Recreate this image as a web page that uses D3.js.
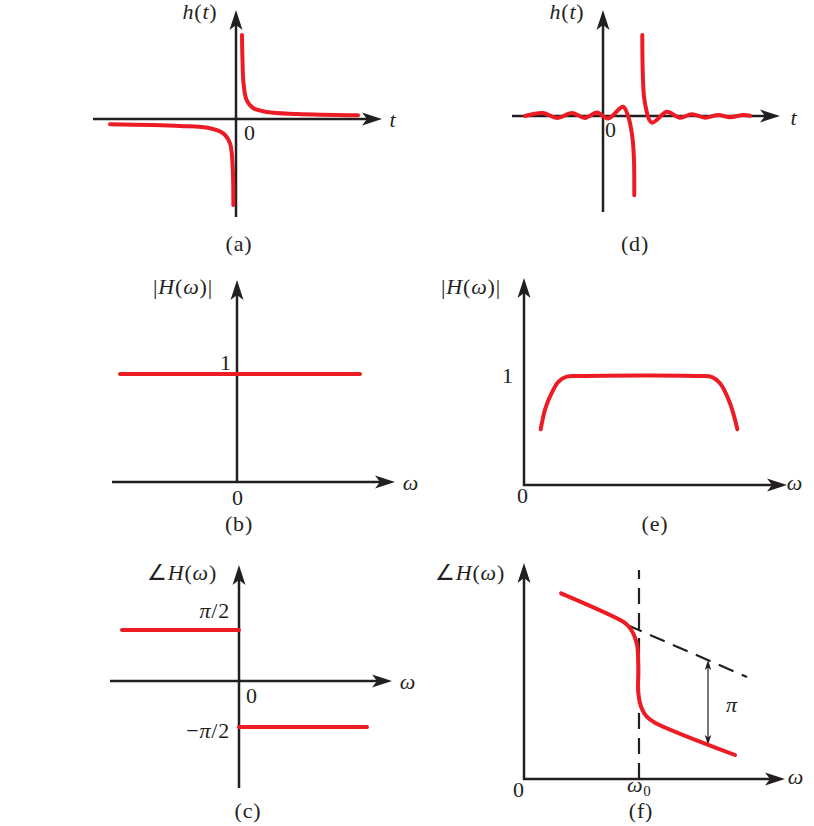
<!DOCTYPE html>
<html>
<head>
<meta charset="utf-8">
<script src="https://cdn.jsdelivr.net/npm/d3@7"></script>
<style>
  body { margin: 0; background: #fff; }
  text { font-family: "Liberation Serif", "Times New Roman", serif; font-size: 22px; fill: #231f20; letter-spacing: 0.8px; }
</style>
</head>
<body>
<svg id="chart" width="814" height="826"></svg>
<script>

// (a) ideal Hilbert transformer h(t) as [t, h]
var hilbertRight = [ [ 0.05, 1.05 ], [ 0.054, 0.74 ], [ 0.0625, 0.45 ], [ 0.0875, 0.24 ], [ 0.142, 0.1375 ],
  [ 0.258, 0.0875 ], [ 0.508, 0.0625 ], [ 1.017, 0.046 ] ];
var hilbertLeft = [ [ -1.05, -0.066 ], [ -0.467, -0.0875 ], [ -0.217, -0.116 ], [ -0.106, -0.179 ],
  [ -0.05, -0.304 ], [ -0.028, -0.596 ], [ -0.022, -1.075 ] ];

// (d) practical (band-limited, delayed) h(t)
var practicalLeft = [ [ -2.6, 0 ], [ -2.0, 0.0375 ], [ -1.533, -0.025 ], [ -1.033, 0.0375 ], [ -0.6, -0.025 ],
  [ -0.2, 0.044 ], [ 0.167, -0.031 ], [ 0.667, 0.116 ], [ 0.843, -0.009 ], [ 0.923, -0.134 ],
  [ 0.99, -0.3 ], [ 1.033, -0.55 ], [ 1.043, -0.99 ] ];
var practicalRight = [ [ 1.31, 1.0125 ], [ 1.323, 0.575 ], [ 1.367, 0.241 ], [ 1.457, 0.054 ], [ 1.543, -0.05 ],
  [ 1.643, -0.084 ], [ 1.79, -0.05 ], [ 2.123, 0.054 ], [ 2.567, -0.021 ], [ 2.957, 0.021 ],
  [ 3.4, -0.021 ], [ 3.843, 0.0125 ], [ 4.233, -0.016 ], [ 4.677, 0.0125 ], [ 4.9, 0.004 ] ];

// (b) ideal magnitude
var magIdeal = [ [ -0.975, 1 ], [ 1.025, 1 ] ];

// (e) practical magnitude
var magPractical = [ [ 0.076, 0.511 ], [ 0.095, 0.688 ], [ 0.118, 0.81 ], [ 0.156, 0.947 ], [ 0.194, 0.994 ],
  [ 0.255, 1 ], [ 0.8, 1 ], [ 0.855, 0.99 ], [ 0.891, 0.933 ], [ 0.936, 0.752 ], [ 0.97, 0.511 ] ];

// (c) ideal phase
var phaseIdealNeg = [ [ -0.975, Math.PI / 2 ], [ 0, Math.PI / 2 ] ];
var phaseIdealPos = [ [ 0, -Math.PI / 2 ], [ 1.067, -Math.PI / 2 ] ];

// (f) practical phase, omega in units of omega0
var phasePractical = [ [ 0.322, 1.857 ], [ 0.863, 1.573 ], [ 0.907, 1.53 ], [ 0.95, 1.457 ], [ 0.98, 1.357 ],
  [ 0.989, 1.29 ], [ 0.994, 1.09 ], [ 0.994, 0.857 ], [ 1.023, 0.707 ], [ 1.067, 0.623 ],
  [ 1.139, 0.563 ], [ 1.835, 0.24 ] ];
var phaseLinear = [ [ 0.896, 1.54 ], [ 1.939, 1.02 ] ];
var phaseMarker = [ [ 1, 0 ], [ 1, 2.09 ] ];
var piGap = [ [ 1.6, 1.19 ], [ 1.6, 0.34 ] ];

// labels: [text, style]
var captions = [ "(a)", "(b)", "(c)", "(d)", "(e)", "(f)" ];
var lblImpulse = [ [ "h", "i" ], [ "(", "" ], [ "t", "i" ], [ ")", "" ] ];
var lblMag = [ [ "|", "" ], [ "H", "i" ], [ "(", "" ], [ "\u03c9", "i" ], [ ")", "" ], [ "|", "" ] ];
var lblPhase = [ [ "\u2220", "" ], [ "H", "i" ], [ "(", "" ], [ "\u03c9", "i" ], [ ")", "" ] ];
var lblHalfPi = [ [ "\u03c0", "i" ], [ "/2", "" ] ];
var lblNegHalfPi = [ [ "\u2212", "" ], [ "\u03c0", "i" ], [ "/2", "" ] ];
var lblPi = [ [ "\u03c0", "i" ] ];
var lblT = [ [ "t", "i" ] ];
var lblW = [ [ "\u03c9", "i" ] ];
var lblW0 = [ [ "\u03c9", "i" ], [ "0", "sub" ] ];
var lblZero = [ [ "0", "" ] ];
var lblOne = [ [ "1", "" ] ];

var RED = "#ed1c24";
var INK = "#231f20";

var svg = d3.select( "#chart" );

function arrowHead( g, px, py, angle, scale ) {
  g.append( "path" )
    .attr( "d", "M0,0L-20,-6.5L-15,0L-20,6.5Z" )
    .attr( "transform", "translate(" + px + "," + py + ") rotate(" + angle + ") scale(" + scale + ")" )
    .attr( "fill", INK );
}

function Panel( cfg ) {
  this.x = d3.scaleLinear().domain( cfg.xDomain ).range( cfg.xRange );
  this.y = d3.scaleLinear().domain( cfg.yDomain ).range( cfg.yRange );
  this.g = svg.append( "g" );
  this.ox = this.x( 0 );
  this.oy = this.y( 0 );
  this.layers = {
    axes: this.g.append( "g" ),
    guides: this.g.append( "g" ),
    marks: this.g.append( "g" ),
    labels: this.g.append( "g" )
  };
  this._axes( cfg.xExt, cfg.yExt );
}

Panel.prototype = {

  _axes: function( xExt, yExt ) {
    var layer = this.layers.axes;
    layer.append( "line" )
      .attr( "x1", xExt[ 0 ] ).attr( "x2", xExt[ 1 ] - 10 )
      .attr( "y1", this.oy ).attr( "y2", this.oy )
      .attr( "stroke", INK ).attr( "stroke-width", 2.5 );
    arrowHead( layer, xExt[ 1 ], this.oy, 0, 1 );
    layer.append( "line" )
      .attr( "x1", this.ox ).attr( "x2", this.ox )
      .attr( "y1", yExt[ 0 ] ).attr( "y2", yExt[ 1 ] + 10 )
      .attr( "stroke", INK ).attr( "stroke-width", 2.5 );
    arrowHead( layer, this.ox, yExt[ 1 ], -90, 1 );
  },

  curve: function( data, smooth ) {
    var x = this.x, y = this.y;
    var line = d3.line()
      .x( function( d ) { return x( d[ 0 ] ); } )
      .y( function( d ) { return y( d[ 1 ] ); } )
      .curve( smooth ? d3.curveCatmullRom.alpha( 0.5 ) : d3.curveLinear );
    this.layers.marks.append( "path" )
      .datum( data )
      .attr( "d", line )
      .attr( "fill", "none" )
      .attr( "stroke", RED )
      .attr( "stroke-width", 4 )
      .attr( "stroke-linecap", "round" )
      .attr( "stroke-linejoin", "round" );
  },

  dashed: function( data ) {
    var x = this.x, y = this.y;
    this.layers.guides.append( "path" )
      .datum( data )
      .attr( "d", d3.line().x( function( d ) { return x( d[ 0 ] ); } ).y( function( d ) { return y( d[ 1 ] ); } ) )
      .attr( "fill", "none" )
      .attr( "stroke", INK )
      .attr( "stroke-width", 2.2 )
      .attr( "stroke-dasharray", "16,9" );
  },

  text: function( parts, px, py, anchor ) {
    var t = this.layers.labels.append( "text" )
      .attr( "x", px ).attr( "y", py )
      .attr( "text-anchor", anchor || "middle" );
    parts.forEach( function( p ) {
      var s = t.append( "tspan" ).text( p[ 0 ] );
      if( p[ 1 ] === "i" ) {
        s.attr( "font-style", "italic" );
      }
      if( p[ 1 ] === "sub" ) {
        s.attr( "font-size", 15 ).attr( "dy", 4 );
      }
    } );
    return t;
  },

  label: function( parts, dx, dy, anchor ) {
    return this.text( parts, this.ox + dx, this.oy + dy, anchor );
  }

};

// (a)
var pa = new Panel( { xDomain: [ -1, 1 ], xRange: [ 116, 356 ], yDomain: [ -1, 1 ], yRange: [ 199, 39 ],
  xExt: [ 93, 382 ], yExt: [ 217, 10 ] } );
pa.curve( hilbertRight, true );
pa.curve( hilbertLeft, true );
pa.label( lblImpulse, -36, -100 );
pa.label( lblT, 157, 8 );
pa.label( lblZero, 14, 21 );
pa.label( [ [ captions[ 0 ], "" ] ], 3, 132 );

// (b)
var pb = new Panel( { xDomain: [ -1, 1 ], xRange: [ 117, 357 ], yDomain: [ 0, 1 ], yRange: [ 482, 374 ],
  xExt: [ 112, 395 ], yExt: [ 482, 280 ] } );
pb.curve( magIdeal, false );
pb.label( lblMag, -54, -188 );
pb.text( lblOne, pb.ox - 11, pb.y( 1 ) - 4 );
pb.label( lblZero, 1, 23 );
pb.label( lblW, 174, 8 );
pb.label( [ [ captions[ 1 ], "" ] ], 2, 49 );

// (c)
var pc = new Panel( { xDomain: [ -1, 1 ], xRange: [ 119, 359 ],
  yDomain: [ -Math.PI / 2, 0, Math.PI / 2 ], yRange: [ 727, 681, 630 ],
  xExt: [ 110, 392 ], yExt: [ 788, 565 ] } );
pc.curve( phaseIdealNeg, false );
pc.curve( phaseIdealPos, false );
pc.label( lblPhase, -57, -101 );
pc.text( lblHalfPi, pc.ox - 9, pc.y( Math.PI / 2 ) - 12, "end" );
pc.text( lblNegHalfPi, pc.ox - 9, pc.y( -Math.PI / 2 ) + 11, "end" );
pc.label( lblZero, 13, 22 );
pc.label( lblW, 169, 8 );
pc.label( [ [ captions[ 2 ], "" ] ], 9, 137 );

// (d)
var pd = new Panel( { xDomain: [ -3, 5 ], xRange: [ 513, 753 ], yDomain: [ -1, 1 ], yRange: [ 196, 36 ],
  xExt: [ 512, 780 ], yExt: [ 212, 10 ] } );
pd.curve( practicalLeft, true );
pd.curve( practicalRight, true );
pd.label( lblImpulse, -36, -97 );
pd.label( lblT, 191, 9 );
pd.label( lblZero, 8, 21 );
pd.label( [ [ captions[ 3 ], "" ] ], 32, 135 );

// (e)
var pe = new Panel( { xDomain: [ 0, 1 ], xRange: [ 524, 744 ], yDomain: [ 0, 1 ], yRange: [ 485, 376 ],
  xExt: [ 523, 787 ], yExt: [ 486, 278 ] } );
pe.curve( magPractical, true );
pe.label( lblMag, -53, -191 );
pe.text( lblOne, pe.ox - 16, pe.y( 1 ) + 7 );
pe.label( lblZero, -1, 18 );
pe.label( lblW, 271, 5 );
pe.label( [ [ captions[ 4 ], "" ] ], 131, 46 );

// (f)
var pf = new Panel( { xDomain: [ 0, 1 ], xRange: [ 524, 639 ], yDomain: [ 0, 2 ], yRange: [ 779, 579 ],
  xExt: [ 523, 785 ], yExt: [ 780, 563 ] } );
pf.dashed( phaseMarker );
pf.dashed( phaseLinear );
pf.curve( phasePractical, true );
// pi gap arrow
pf.layers.guides.append( "line" )
  .attr( "x1", pf.x( piGap[ 0 ][ 0 ] ) ).attr( "x2", pf.x( piGap[ 1 ][ 0 ] ) )
  .attr( "y1", pf.y( piGap[ 0 ][ 1 ] ) + 6 ).attr( "y2", pf.y( piGap[ 1 ][ 1 ] ) - 6 )
  .attr( "stroke", INK ).attr( "stroke-width", 1.2 );
arrowHead( pf.layers.guides, pf.x( piGap[ 0 ][ 0 ] ), pf.y( piGap[ 0 ][ 1 ] ), -90, 0.5 );
arrowHead( pf.layers.guides, pf.x( piGap[ 1 ][ 0 ] ), pf.y( piGap[ 1 ][ 1 ] ), 90, 0.5 );
pf.text( lblPi, pf.x( piGap[ 0 ][ 0 ] ) + 24, ( pf.y( piGap[ 0 ][ 1 ] ) + pf.y( piGap[ 1 ][ 1 ] ) ) / 2 + 9 );
pf.label( lblPhase, -54, -199 );
pf.label( lblZero, -5, 18 );
pf.text( lblW0, pf.x( 1 ) - 12, pf.oy + 13, "start" );
pf.label( lblW, 272, 5 );
pf.text( [ [ captions[ 5 ], "" ] ], pf.x( 1 ) + 2, pf.oy + 39 );

</script>
</body>
</html>
